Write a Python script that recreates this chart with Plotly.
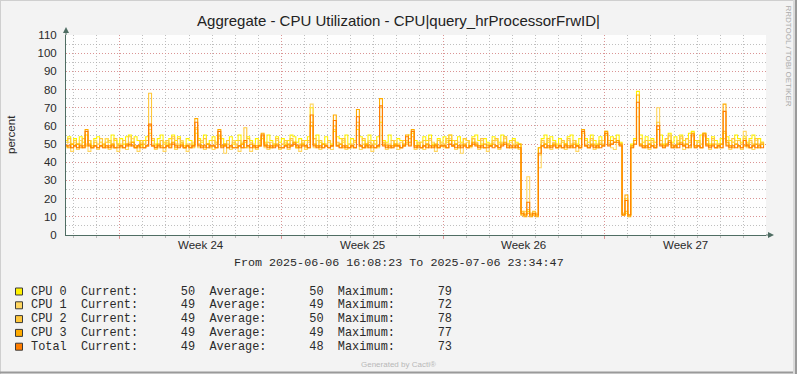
import plotly.graph_objects as go
import pandas as pd

# ---------------- data ----------------
start_time = "2025-06-06 15:00"      # first 3-hour sample
sample_step = "3h"
range_start = "2025-06-06 16:08:23"
range_end = "2025-07-06 23:34:47"

series_names = ["CPU 0", "CPU 1", "CPU 2", "CPU 3", "Total"]
series_colors = ["#FFF200", "#FFD660", "#FFC73B", "#FFAB00", "#FF7D00"]
current_vals = [50, 49, 49, 49, 49]
average_vals = [50, 49, 50, 49, 48]
maximum_vals = [79, 72, 78, 77, 73]

week_labels = ["Week 24", "Week 25", "Week 26", "Week 27"]
week_mondays = ["2025-06-09", "2025-06-16", "2025-06-23", "2025-06-30"]
y_ticks = [0, 10, 20, 30, 40, 50, 60, 70, 80, 90, 100, 110]

title_text = "Aggregate - CPU Utilization - CPU|query_hrProcessorFrwID|"
y_title = "percent"
period_text = "From 2025-06-06 16:08:23 To 2025-07-06 23:34:47"
footer_text = "Generated by Cacti®"
side_text = "RRDTOOL / TOBI OETIKER"

cpu0 = [52, 54, 50,
        53, 50, 54, 51, 55, 52, 49, 53,   # 06-07
        54, 51, 49, 53, 51, 55, 52, 50,   # 06-08
        53, 50, 54, 55, 51, 54, 52, 49,   # 06-09
        52, 54, 56, 52, 50, 53, 55, 51,   # 06-10
        50, 53, 55, 52, 54, 51, 49, 53,   # 06-11
        52, 50, 56, 53, 51, 55, 50, 52,   # 06-12
        54, 51, 55, 53, 49, 52, 54, 50,   # 06-13
        52, 55, 50, 51, 54, 52, 49, 53,   # 06-14
        50, 53, 51, 55, 52, 50, 54, 51,   # 06-15
        53, 50, 52, 55, 54, 51, 53, 50,   # 06-16
        52, 54, 70, 53, 55, 51, 50, 54,   # 06-17
        52, 50, 57, 54, 53, 51, 55, 50,   # 06-18
        53, 51, 58, 54, 52, 50, 55, 52,   # 06-19
        50, 54, 62, 52, 51, 55, 52, 49,   # 06-20
        53, 52, 49, 51, 55, 56, 52, 50,   # 06-21
        51, 54, 52, 55, 50, 49, 53, 51,   # 06-22
        54, 51, 55, 52, 50, 54, 51, 53,   # 06-23
        52, 49, 54, 55, 52, 50, 53, 51,   # 06-24
        50, 54, 53, 51, 55, 54, 50, 52,   # 06-25
        53, 51, 50, 12, 11, 13, 11, 12,   # 06-26
        11, 48, 53, 55, 51, 54, 52, 50,   # 06-27
        53, 51, 50, 54, 55, 52, 50, 53,   # 06-28
        56, 53, 51, 55, 52, 50, 54, 52,   # 06-29
        55, 52, 54, 53, 55, 51, 11, 12,   # 06-30
        11, 50, 53, 79, 55, 51, 54, 52,   # 07-01
        53, 51, 58, 55, 50, 53, 56, 51,   # 07-02
        54, 50, 55, 52, 53, 56, 57, 52,   # 07-03
        51, 55, 56, 53, 50, 54, 52, 50,   # 07-04
        53, 56, 54, 52, 51, 55, 53, 51,   # 07-05
        54, 51, 53, 55, 52, 53, 51, 50]   # 07-06

cpu1 = [48, 51, 46,
        51, 47, 52, 48, 50, 46, 49, 52,
        47, 51, 49, 53, 47, 50, 48, 46,
        50, 52, 47, 51, 53, 48, 46, 51,
        48, 52, 58, 50, 47, 49, 52, 46,
        51, 48, 53, 47, 50, 52, 48, 46,
        49, 51, 58, 48, 52, 47, 50, 48,
        47, 51, 53, 49, 45, 50, 47, 52,
        49, 46, 51, 52, 48, 46, 50, 47,
        51, 54, 48, 47, 51, 49, 52, 47,
        48, 51, 47, 52, 50, 48, 46, 51,
        47, 51, 72, 48, 52, 47, 50, 49,
        51, 47, 58, 50, 48, 52, 47, 50,
        48, 51, 60, 47, 50, 49, 52, 46,
        50, 48, 65, 51, 47, 50, 48, 52,
        47, 51, 49, 52, 50, 57, 47, 49,
        51, 47, 49, 52, 51, 46, 49, 51,
        48, 52, 53, 49, 47, 51, 45, 49,
        51, 48, 53, 50, 47, 52, 48, 46,
        49, 51, 52, 47, 50, 53, 48, 51,
        50, 48, 47, 11, 13, 32, 12, 11,
        12, 37, 51, 48, 52, 47, 50, 49,
        48, 51, 47, 52, 49, 51, 46, 49,
        56, 50, 48, 52, 47, 49, 51, 52,
        57, 51, 48, 47, 52, 50, 12, 20,
        11, 48, 52, 65, 50, 48, 52, 47,
        51, 48, 70, 52, 48, 50, 54, 48,
        49, 51, 53, 47, 50, 52, 54, 48,
        51, 48, 54, 50, 47, 52, 48, 50,
        48, 53, 50, 47, 51, 52, 48, 47,
        57, 48, 51, 47, 52, 48, 50, 49]

cpu2 = [51, 53, 48,
        52, 48, 50, 53, 49, 52, 48, 51,
        50, 53, 48, 51, 52, 48, 53, 50,
        48, 52, 50, 54, 51, 49, 48, 52,
        50, 52, 78, 53, 49, 48, 52, 50,
        52, 49, 54, 50, 53, 51, 48, 50,
        50, 48, 59, 52, 49, 53, 50, 48,
        52, 50, 54, 49, 50, 52, 48, 51,
        50, 52, 48, 59, 53, 51, 49, 48,
        52, 55, 49, 51, 48, 50, 53, 49,
        50, 52, 49, 53, 51, 48, 50, 52,
        48, 52, 62, 53, 49, 52, 48, 50,
        52, 49, 60, 51, 50, 53, 49, 48,
        50, 52, 62, 49, 53, 48, 51, 50,
        52, 49, 70, 51, 50, 48, 52, 50,
        50, 48, 52, 50, 53, 54, 49, 51,
        48, 52, 50, 53, 49, 48, 52, 50,
        50, 53, 55, 49, 52, 48, 50, 53,
        52, 49, 53, 51, 49, 53, 48, 50,
        49, 52, 53, 50, 51, 54, 50, 48,
        52, 50, 48, 13, 12, 14, 12, 13,
        12, 44, 52, 50, 53, 49, 51, 48,
        50, 52, 48, 53, 50, 52, 49, 48,
        57, 52, 49, 53, 50, 48, 52, 50,
        56, 52, 50, 53, 52, 50, 12, 13,
        11, 49, 52, 70, 53, 49, 52, 50,
        52, 49, 62, 52, 49, 53, 55, 50,
        49, 52, 54, 50, 53, 51, 56, 49,
        52, 50, 56, 52, 49, 53, 50, 48,
        50, 57, 52, 49, 53, 50, 52, 50,
        53, 49, 52, 50, 53, 50, 51, 49]

cpu3 = [49, 48, 50,
        49, 50, 48, 49, 58, 50, 48, 49,
        48, 49, 50, 48, 49, 50, 48, 49,
        49, 48, 50, 49, 51, 48, 49, 50,
        48, 49, 60, 49, 48, 50, 49, 48,
        49, 50, 51, 48, 49, 50, 48, 49,
        48, 49, 64, 50, 49, 48, 50, 49,
        49, 48, 58, 49, 50, 48, 49, 48,
        48, 49, 50, 48, 49, 50, 48, 49,
        49, 56, 50, 49, 48, 49, 50, 48,
        48, 49, 50, 49, 51, 48, 49, 50,
        49, 48, 60, 50, 49, 48, 50, 49,
        48, 49, 66, 49, 50, 48, 49, 48,
        49, 48, 69, 49, 48, 50, 49, 48,
        48, 49, 75, 50, 49, 48, 49, 50,
        49, 48, 50, 55, 51, 58, 49, 48,
        48, 49, 50, 48, 49, 50, 48, 49,
        49, 48, 52, 49, 50, 48, 49, 50,
        48, 49, 51, 50, 49, 48, 50, 49,
        49, 50, 49, 48, 50, 51, 49, 48,
        49, 48, 50, 11, 10, 12, 10, 11,
        10, 48, 49, 50, 48, 49, 50, 48,
        49, 48, 50, 49, 48, 50, 49, 48,
        58, 49, 48, 50, 49, 48, 50, 49,
        57, 50, 52, 51, 52, 50, 11, 22,
        10, 49, 52, 77, 50, 49, 48, 50,
        49, 48, 58, 50, 49, 50, 52, 49,
        48, 50, 51, 49, 50, 48, 56, 49,
        49, 48, 56, 50, 49, 50, 48, 49,
        50, 72, 51, 49, 48, 50, 49, 48,
        49, 50, 48, 49, 50, 48, 50, 49]

total = [49, 49, 48,
         49, 48, 49, 48, 57, 49, 48, 49,
         48, 49, 48, 49, 48, 49, 48, 48,
         49, 48, 49, 50, 49, 48, 49, 48,
         48, 49, 61, 49, 48, 49, 48, 48,
         49, 48, 50, 49, 48, 49, 48, 49,
         48, 49, 62, 49, 48, 49, 48, 49,
         49, 48, 57, 48, 49, 48, 49, 48,
         48, 49, 48, 52, 49, 48, 49, 48,
         49, 55, 49, 48, 49, 48, 49, 48,
         48, 49, 48, 49, 50, 49, 48, 49,
         49, 48, 66, 49, 48, 49, 48, 49,
         48, 49, 63, 49, 48, 49, 48, 48,
         49, 48, 65, 49, 48, 49, 48, 49,
         48, 49, 71, 49, 48, 49, 48, 49,
         49, 48, 49, 54, 49, 57, 48, 49,
         48, 49, 48, 49, 48, 49, 48, 49,
         49, 48, 50, 49, 48, 49, 48, 49,
         48, 49, 50, 49, 48, 49, 48, 48,
         49, 48, 49, 48, 49, 50, 48, 49,
         48, 49, 48, 12, 11, 18, 11, 12,
         11, 45, 49, 48, 49, 48, 49, 48,
         49, 48, 49, 48, 49, 48, 49, 48,
         57, 49, 48, 49, 48, 49, 48, 49,
         56, 49, 50, 51, 51, 49, 11, 19,
         11, 48, 50, 73, 49, 48, 49, 48,
         49, 48, 60, 49, 48, 49, 51, 48,
         49, 48, 50, 49, 48, 49, 55, 48,
         49, 48, 55, 49, 48, 49, 48, 49,
         48, 68, 49, 48, 49, 48, 49, 48,
         52, 49, 48, 49, 48, 49, 48, 49]

series_values = [cpu0, cpu1, cpu2, cpu3, total]

# ---------------- layout constants ----------------
W, H = 797, 374
ML, MR, MT, MB = 66, 31, 35, 139
PW, PH = W - ML - MR, H - MT - MB

AXIS = "#4F6D63"
RED_GRID = "rgba(222,140,140,0.85)"
GREY_GRID = "rgba(170,170,170,0.75)"
DOT = "1px,2px"
SANS = "Liberation Sans, Arial, sans-serif"
MONO = "Liberation Mono, Courier New, monospace"
TXT = "#2a2a2a"


def fx(px):
    return (px - ML) / PW


def fy(py):
    return (MT + PH - py) / PH


times = pd.date_range(start_time, periods=len(cpu0), freq=sample_step)

fig = go.Figure()
for name, color, vals in zip(series_names, series_colors, series_values):
    fig.add_trace(go.Scatter(x=times, y=vals, name=name, mode="lines",
                             line=dict(color=color, width=1.1, shape="hv"),
                             hoverinfo="skip", showlegend=False))

shapes = []
annotations = []

# axis arrows
shapes.append(dict(type="line", xref="paper", yref="paper", xsizemode="pixel", ysizemode="pixel",
                   xanchor=0, yanchor=1, x0=0, x1=0, y0=0, y1=4, line=dict(color=AXIS, width=1)))
shapes.append(dict(type="path", xref="paper", yref="paper", xsizemode="pixel", ysizemode="pixel",
                   xanchor=0, yanchor=1, path="M -3,2 L 3,2 L 0,8 Z", fillcolor=AXIS, line=dict(width=0)))
shapes.append(dict(type="line", xref="paper", yref="paper", xsizemode="pixel", ysizemode="pixel",
                   xanchor=1, yanchor=0, x0=0, x1=4, y0=0, y1=0, line=dict(color=AXIS, width=1)))
shapes.append(dict(type="path", xref="paper", yref="paper", xsizemode="pixel", ysizemode="pixel",
                   xanchor=1, yanchor=0, path="M 2,-3 L 2,3 L 8,0 Z", fillcolor=AXIS, line=dict(width=0)))

# outer frame (bevel)
shapes.append(dict(type="line", xref="paper", yref="paper", x0=fx(0), x1=fx(W), y0=fy(0.5), y1=fy(0.5),
                   line=dict(color="#CFCFCF", width=1)))
shapes.append(dict(type="line", xref="paper", yref="paper", x0=fx(0.5), x1=fx(0.5), y0=fy(0), y1=fy(H),
                   line=dict(color="#CFCFCF", width=1)))
shapes.append(dict(type="line", xref="paper", yref="paper", x0=fx(0), x1=fx(W), y0=fy(H - 1.5), y1=fy(H - 1.5),
                   line=dict(color="#9A9A9A", width=2)))
shapes.append(dict(type="rect", xref="paper", yref="paper", x0=fx(W - 4), x1=fx(W), y0=fy(0), y1=fy(H),
                   fillcolor="#DADADA", line=dict(width=0)))
shapes.append(dict(type="line", xref="paper", yref="paper", x0=fx(W - 1), x1=fx(W - 1), y0=fy(0), y1=fy(H),
                   line=dict(color="#9A9A9A", width=2)))

# legend rows
for i, (name, color, cur, avg, mx) in enumerate(zip(series_names, series_colors, current_vals,
                                                     average_vals, maximum_vals)):
    row_y = 291.5 + 13.8 * i
    shapes.append(dict(type="rect", xref="paper", yref="paper",
                       x0=fx(15.5), x1=fx(22.5), y0=fy(row_y + 3.5), y1=fy(row_y - 3.5),
                       fillcolor=color, line=dict(color="#3a3a3a", width=1)))
    line_text = f"{name:<7}Current:{cur:>8}  Average:{avg:>8}  Maximum:{mx:>8}"
    annotations.append(dict(text=line_text.replace(" ", "\u00a0"), xref="paper", yref="paper",
                            x=fx(29.5), y=fy(row_y), xanchor="left", yanchor="middle",
                            showarrow=False, borderpad=0, font=dict(family=MONO, size=11.9, color=TXT)))

# week labels below x axis
for lab, mon in zip(week_labels, week_mondays):
    mid = pd.Timestamp(mon) + pd.Timedelta(hours=84)
    annotations.append(dict(text=lab, xref="x", yref="paper", x=mid, y=0, yanchor="top", yshift=-3,
                            showarrow=False, borderpad=0, font=dict(family=SANS, size=11.5, color=TXT)))

annotations.append(dict(text=period_text.replace(" ", "\u00a0"), xref="paper", yref="paper",
                        x=fx(398.5), y=fy(263), xanchor="center", yanchor="middle", showarrow=False,
                        borderpad=0, font=dict(family=MONO, size=11.7, color=TXT)))
annotations.append(dict(text=y_title, xref="paper", yref="paper", x=fx(11), y=0.5, textangle=-90,
                        xanchor="center", yanchor="middle", showarrow=False, borderpad=0,
                        font=dict(family=SANS, size=11.5, color=TXT)))
annotations.append(dict(text=footer_text, xref="paper", yref="paper", x=fx(398.5), y=fy(364.5),
                        xanchor="center", yanchor="middle", showarrow=False, borderpad=0,
                        font=dict(family=SANS, size=8, color="#B8B8B8")))
annotations.append(dict(text=side_text, xref="paper", yref="paper", x=fx(788.5), y=fy(56),
                        textangle=90, xanchor="center", yanchor="middle", showarrow=False, borderpad=0,
                        font=dict(family=SANS, size=8, color="#ABABAB")))

fig.update_layout(
    width=W, height=H,
    margin=dict(l=ML, r=MR, t=MT, b=MB, autoexpand=False),
    paper_bgcolor="#F3F3F3",
    plot_bgcolor="#FEFEFE",
    title=dict(text=title_text, x=0.5, xref="container", xanchor="center",
               y=1 - 21 / H, yref="container", yanchor="middle",
               font=dict(family=SANS, size=15, color="#222222")),
    xaxis=dict(type="date", range=[range_start, range_end], fixedrange=True,
               showline=True, linecolor=AXIS, linewidth=1, zeroline=False,
               tickmode="array", tickvals=week_mondays, ticktext=[""] * len(week_mondays),
               showgrid=True, gridcolor=RED_GRID, gridwidth=1, griddash=DOT,
               ticks="outside", ticklen=3, tickcolor=RED_GRID, tickwidth=1,
               minor=dict(tickmode="linear", tick0="2025-06-07", dtick=86400000,
                          showgrid=True, gridcolor=GREY_GRID, griddash=DOT, gridwidth=1,
                          ticks="outside", ticklen=2, tickcolor=GREY_GRID),
               automargin=False),
    yaxis=dict(range=[0, 110], fixedrange=True, tickmode="array", tickvals=y_ticks,
               showline=True, linecolor=AXIS, linewidth=1, zeroline=False,
               showgrid=True, gridcolor=RED_GRID, gridwidth=1, griddash=DOT,
               ticks="", ticklabelstandoff=6,
               tickfont=dict(family=SANS, size=11.5, color=TXT),
               minor=dict(tickmode="linear", tick0=0, dtick=5, showgrid=True,
                          gridcolor=GREY_GRID, griddash=DOT, gridwidth=1),
               automargin=False),
    shapes=shapes,
    annotations=annotations,
)

fig.write_html("out.html", config={"displayModeBar": False},
               post_script="document.body.style.margin='0';document.body.style.overflow='hidden';")
